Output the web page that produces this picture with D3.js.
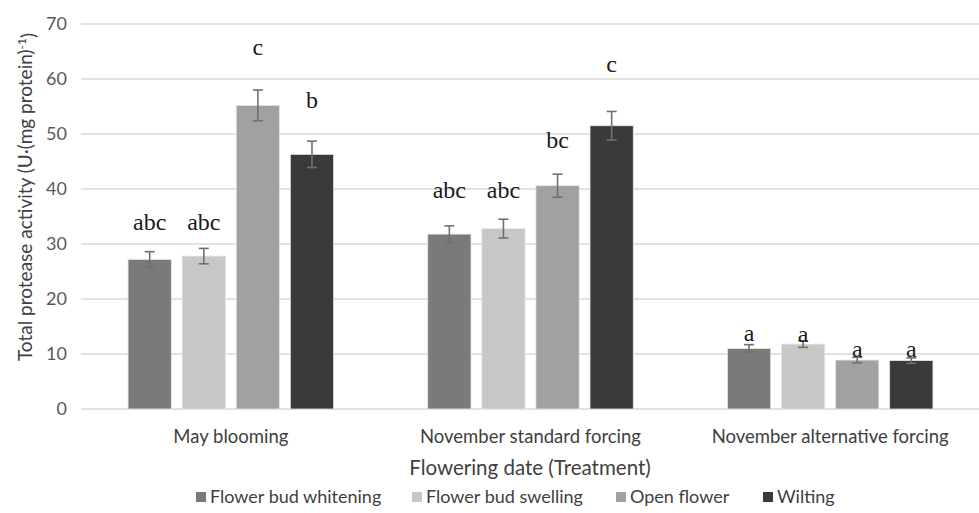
<!DOCTYPE html>
<html>
<head>
<meta charset="utf-8">
<script src="https://cdn.jsdelivr.net/npm/d3@7"></script>
<style>
  body { margin: 0; background: #fff; }
  svg text { font-family: Lato, "Open Sans", sans-serif; fill: #262626; }
  .letter { font-family: "Liberation Serif", "DejaVu Serif", serif; }
</style>
</head>
<body>
<div id="chart"></div>
<script>
var categories = ["May blooming", "November standard forcing", "November alternative forcing"];
var stages = ["Flower bud whitening", "Flower bud swelling", "Open flower", "Wilting"];
var colors = ["#7a7a7a", "#c6c7c6", "#a1a1a1", "#3a3a39"];

// mean values per stage, one entry per category
var whitening = [27.2, 31.8, 11.0];
var swelling = [27.8, 32.8, 11.8];
var openFlower = [55.2, 40.6, 8.9];
var wilting = [46.3, 51.5, 8.8];

var errWhitening = [1.4, 1.5, 0.7];
var errSwelling = [1.4, 1.7, 0.6];
var errOpen = [2.8, 2.1, 0.5];
var errWilting = [2.4, 2.6, 0.5];

// significance letters and the value level their baseline sits at
var letWhitening = ["abc", "abc", "a"];
var letSwelling = ["abc", "abc", "a"];
var letOpen = ["c", "bc", "a"];
var letWilting = ["b", "c", "a"];
var lvlWhitening = [32.5, 38.4, 12.4];
var lvlSwelling = [32.5, 38.4, 12.2];
var lvlOpen = [64.4, 47.5, 9.5];
var lvlWilting = [54.7, 61.3, 9.5];

var yTicks = [0, 10, 20, 30, 40, 50, 60, 70];

var values = [whitening, swelling, openFlower, wilting];
var errors = [errWhitening, errSwelling, errOpen, errWilting];
var letters = [letWhitening, letSwelling, letOpen, letWilting];
var levels = [lvlWhitening, lvlSwelling, lvlOpen, lvlWilting];

var rows = [];
categories.forEach(function (c, ci) {
  stages.forEach(function (s, si) {
    rows.push({
      cat: c, stage: s, si: si,
      v: values[si][ci], e: errors[si][ci],
      lab: letters[si][ci], lvl: levels[si][ci]
    });
  });
});

var w = 979, h = 513;
var plotLeft = 81, plotRight = 980, plotTop = 24, plotBottom = 409;

var svg = d3.select("#chart").append("svg").attr("width", w).attr("height", h);

var x0 = d3.scaleBand().domain(categories).range([plotLeft, plotRight]);
var x1 = d3.scaleBand().domain(stages).range([0, x0.bandwidth()])
  .paddingInner(0.2).paddingOuter(0.87);
var y = d3.scaleLinear().domain([0, 70]).range([plotBottom, plotTop]);

// gridlines
svg.append("g").selectAll("line").data(yTicks).enter().append("line")
  .attr("x1", plotLeft).attr("x2", w)
  .attr("y1", function (d) { return y(d); })
  .attr("y2", function (d) { return y(d); })
  .attr("stroke", "#d9d9d9").attr("stroke-width", 1.5);

// y tick labels
svg.append("g").selectAll("text").data(yTicks).enter().append("text")
  .attr("x", 67).attr("y", function (d) { return y(d); })
  .attr("dy", "0.35em").attr("text-anchor", "end")
  .style("font-size", "18px").style("fill", "#595959")
  .text(function (d) { return d; });

// bars
svg.append("g").selectAll("rect").data(rows).enter().append("rect")
  .attr("x", function (d) { return x0(d.cat) + x1(d.stage); })
  .attr("y", function (d) { return y(d.v); })
  .attr("width", x1.bandwidth())
  .attr("height", function (d) { return y(0) - y(d.v); })
  .attr("fill", function (d) { return colors[d.si]; })
  .attr("stroke", "#e6e6e6").attr("stroke-width", 0.8);

// error bars
var eb = svg.append("g").attr("stroke", "#707070").attr("stroke-width", 1.6);
rows.forEach(function (d) {
  var cx = x0(d.cat) + x1(d.stage) + x1.bandwidth() / 2;
  eb.append("line").attr("x1", cx).attr("x2", cx)
    .attr("y1", y(d.v + d.e)).attr("y2", y(d.v - d.e));
  [d.v + d.e, d.v - d.e].forEach(function (v) {
    eb.append("line").attr("x1", cx - 5).attr("x2", cx + 5)
      .attr("y1", y(v)).attr("y2", y(v));
  });
});

// significance letters
svg.append("g").selectAll("text").data(rows).enter().append("text")
  .attr("class", "letter")
  .attr("x", function (d) { return x0(d.cat) + x1(d.stage) + x1.bandwidth() / 2; })
  .attr("y", function (d) { return y(d.lvl); })
  .attr("text-anchor", "middle")
  .style("font-size", "24px").style("fill", "#1a1a1a")
  .text(function (d) { return d.lab; });

// category labels
svg.append("g").selectAll("text").data(categories).enter().append("text")
  .attr("x", function (d) { return x0(d) + x0.bandwidth() / 2; })
  .attr("y", 437).attr("dy", "0.35em").attr("text-anchor", "middle")
  .style("font-size", "18.5px").style("fill", "#404040")
  .text(function (d) { return d; });

// axis titles
svg.append("text").attr("x", 530).attr("y", 468).attr("dy", "0.35em")
  .attr("text-anchor", "middle").style("font-size", "20.5px").style("fill", "#404040")
  .text("Flowering date (Treatment)");

var yt = svg.append("text")
  .attr("transform", "translate(25,197) rotate(-90)")
  .attr("dy", "0.35em").attr("text-anchor", "middle")
  .style("font-size", "19px").style("fill", "#404040");
yt.append("tspan").text("Total protease activity (U·(mg protein)");
yt.append("tspan").attr("dy", "-0.45em").style("font-size", "12px").text("-1");
yt.append("tspan").attr("dy", "0.45em").text(")");

// legend
var legX = [196, 412, 616, 763];
var leg = svg.append("g").selectAll("g").data(stages).enter().append("g")
  .attr("transform", function (d, i) { return "translate(" + legX[i] + ",497)"; });
leg.append("rect").attr("x", 0).attr("y", -5).attr("width", 10).attr("height", 10)
  .attr("fill", function (d, i) { return colors[i]; });
leg.append("text").attr("x", 14).attr("dy", "0.35em")
  .style("font-size", "18px").style("fill", "#404040")
  .text(function (d) { return d; });
</script>
</body>
</html>
